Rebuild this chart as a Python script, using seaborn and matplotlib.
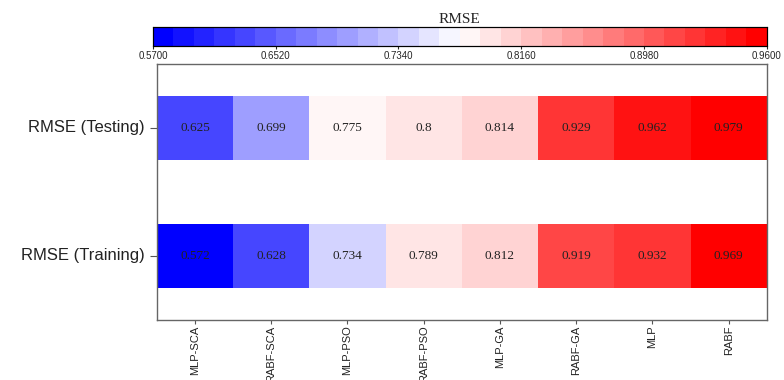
import numpy as np
import pandas as pd
import matplotlib
matplotlib.use("Agg")
import matplotlib.pyplot as plt
import seaborn as sns

models = ["MLP-SCA", "RABF-SCA", "MLP-PSO", "RABF-PSO", "MLP-GA", "RABF-GA", "MLP", "RABF"]
rows = ["RMSE (Testing)", "RMSE (Training)"]
rmse_testing = [0.625, 0.699, 0.775, 0.8, 0.814, 0.929, 0.962, 0.979]
rmse_training = [0.572, 0.628, 0.734, 0.789, 0.812, 0.919, 0.932, 0.969]
cbar_ticks = [0.570, 0.652, 0.734, 0.816, 0.898, 0.980]
cbar_labels = ["0.5700", "0.6520", "0.7340", "0.8160", "0.8980", "0.9600"]

sns.set_style("white")
plt.rcParams["font.family"] = ["Liberation Sans", "DejaVu Sans"]

# pad the two rows with empty bands so the cells float with white gaps
blank = [np.nan] * len(models)
grid = pd.DataFrame([blank, rmse_testing, rmse_testing, blank, blank,
                     rmse_training, rmse_training, blank], columns=models)

cmap = matplotlib.colormaps["bwr"].resampled(30)

fig = plt.figure(figsize=(7.84, 3.8), dpi=100)
ax = fig.add_axes([0.200, 0.158, 0.778, 0.674])
cax = fig.add_axes([0.195, 0.879, 0.783, 0.050])

sns.heatmap(grid, ax=ax, cbar_ax=cax, cmap=cmap, vmin=0.57, vmax=0.98,
            cbar_kws={"orientation": "horizontal", "ticks": cbar_ticks})

for j, v in enumerate(rmse_testing):
    ax.text(j + 0.5, 2, f"{v:g}", ha="center", va="center", fontsize=9.5,
            family="Liberation Serif", color="#222222")
for j, v in enumerate(rmse_training):
    ax.text(j + 0.5, 6, f"{v:g}", ha="center", va="center", fontsize=9.5,
            family="Liberation Serif", color="#222222")

ax.set_yticks([2, 6])
ax.set_yticklabels(rows, rotation=0, fontsize=12, color="#222222")
ax.set_xticks(np.arange(len(models)) + 0.5)
ax.set_xticklabels(models, rotation=90, fontsize=8, color="#222222")
ax.tick_params(axis="y", length=5, width=0.8, color="#555555", left=True)
ax.tick_params(axis="x", length=3, width=0.8, color="#555555", pad=1, bottom=True)
for s in ax.spines.values():
    s.set_visible(True)
    s.set_color("#666666")
    s.set_linewidth(1)
ax.set_xlabel("")
ax.set_ylabel("")

cax.tick_params(axis="x", labelsize=7, length=2.5, width=0.8, pad=1, bottom=True)
cax.set_xticklabels(cbar_labels)
cax.set_title("RMSE", family="Liberation Serif", fontsize=11, pad=3)
for s in cax.spines.values():
    s.set_visible(True)
    s.set_color("black")
    s.set_linewidth(0.8)

fig.savefig("out.png", dpi=100)
